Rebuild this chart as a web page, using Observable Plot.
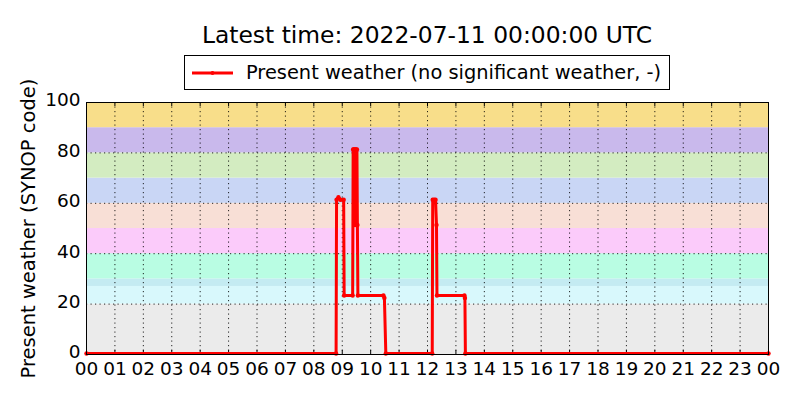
<!DOCTYPE html>
<html>
<head>
<meta charset="utf-8">
<script src="https://cdn.jsdelivr.net/npm/d3@7"></script>
<script src="https://cdn.jsdelivr.net/npm/@observablehq/plot@0.6"></script>
<style>
  html, body { margin: 0; padding: 0; background: #fff; }
  body { width: 800px; height: 400px; position: relative; overflow: hidden; font-family: "DejaVu Sans", sans-serif; }
  #title { position: absolute; left: 86px; width: 682px; top: 20px; text-align: center; font-size: 23.4px; color: #000; line-height: 30px; }
  #legend { position: absolute; left: 184px; top: 55px; width: 484px; height: 33px; border: 1px solid #000; background: #fff; box-sizing: content-box; display: flex; align-items: center; font-size: 19.4px; color: #000; white-space: nowrap; }
  #legend svg { margin-left: 6px; margin-right: 12px; }
  #chart { position: absolute; left: 0; top: 0; }
</style>
</head>
<body>
<div id="chart"></div>
<div id="title">Latest time: 2022-07-11 00:00:00 UTC</div>
<div id="legend"><svg width="43" height="10"><line x1="1" y1="5" x2="42" y2="5" stroke="red" stroke-width="3"/><circle cx="21.5" cy="5" r="2" fill="red"/></svg><span>Present weather (no significant weather, -)</span></div>
<script>
// Observation times (UTC, 2022-07-10) and SYNOP present weather codes
const times = ["00:00","08:47","08:48","08:52","08:56","09:03","09:04","09:22","09:23","09:24","09:25","09:26","09:27","09:28","09:29","09:30","09:31","09:32","09:33","10:27","10:29","10:32","12:10","12:11","12:14","12:17","12:19","12:20","13:18","13:19","13:20","24:00"];
const codes = [0,0,61,62,61,61,23,23,81,81,61,81,51,81,81,51,81,51,23,23,22,0,0,61,61,61,51,23,23,22,0,0];

// Background bands for SYNOP code groups
const bandLow  = [0, 20, 27, 30, 40, 50, 60, 70, 80, 90];
const bandHigh = [20, 27, 30, 40, 50, 60, 70, 80, 90, 100];
const bandColors = ["#ebebeb","#d8f8fc","#c4ebf2","#b9fde3","#fbcbfa","#f8dfd6","#c9d6f5","#d3ecc1","#c9b9ec","#f8de8a"];

const yTicks = [0, 20, 40, 60, 80, 100];
const xTickHours = d3.range(0, 25);

const base = Date.UTC(2022, 6, 10);
const toDate = s => { const [h, m] = s.split(":").map(Number); return new Date(base + (h * 60 + m) * 60000); };
const data = times.map((t, i) => ({time: toDate(t), code: codes[i]}));
const bands = bandLow.map((lo, i) => ({lo, hi: bandHigh[i], color: bandColors[i]}));
const xTicks = xTickHours.map(h => new Date(base + h * 3600000));

const chart = Plot.plot({
  width: 800,
  height: 400,
  marginLeft: 86,
  marginRight: 32,
  marginTop: 102,
  marginBottom: 46,
  style: {fontFamily: "DejaVu Sans, sans-serif", fontSize: "18px", color: "#000", background: "transparent", overflow: "visible"},
  x: {type: "utc", domain: [new Date(base), new Date(base + 24 * 3600000)]},
  y: {domain: [0, 100]},
  marks: [
    Plot.rect(bands, {y1: "lo", y2: "hi", fill: "color"}),
    Plot.gridX(xTicks.slice(1, -1), {stroke: "#000", strokeOpacity: 0.85, strokeDasharray: "1.2,3.3", strokeWidth: 1}),
    Plot.gridY([20, 40, 60, 80], {stroke: "#000", strokeOpacity: 0.85, strokeDasharray: "1.2,3.3", strokeWidth: 1}),
    Plot.axisX(xTicks, {tickSize: 0, tickPadding: 7, fontSize: 18.5, tickFormat: d => d3.utcFormat("%H")(d), label: null}),
    Plot.axisY(yTicks, {tickSize: 0, tickPadding: 6, fontSize: 18.5, dy: -2, label: null}),
    Plot.ruleX(xTicks, {x: d => d, y1: 0, y2: 1.6, stroke: "#000"}),
    Plot.ruleX(xTicks, {x: d => d, y1: 98.4, y2: 100, stroke: "#000"}),
    Plot.line(data, {x: "time", y: "code", stroke: "red", strokeWidth: 3, dy: -1}),
    Plot.dot(data, {x: "time", y: "code", r: 2.2, fill: "red", dy: -1}),
    Plot.frame({stroke: "#000", strokeWidth: 1}),
    Plot.text(["Present weather (SYNOP code)"], {frameAnchor: "left", dx: -58, rotate: -90, textAnchor: "middle", fontSize: 19.5, text: d => d})
  ]
});
document.getElementById("chart").appendChild(chart);
</script>
</body>
</html>
